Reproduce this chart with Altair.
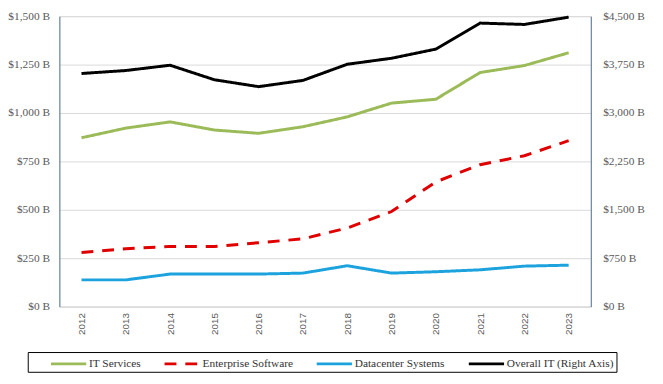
import altair as alt
import pandas as pd

years = [str(y) for y in range(2012, 2024)]
it_services = [872, 922, 954, 912, 895, 929, 980, 1051, 1071, 1209, 1245, 1311]
enterprise_software = [279, 299, 311, 310, 330, 350, 406, 491, 644, 733, 779, 857]
datacenter_systems = [138, 138, 168, 168, 168, 173, 211, 173, 180, 190, 209, 214]
overall_it = [3612, 3658, 3740, 3515, 3408, 3505, 3755, 3848, 3990, 4393, 4372, 4485]

series_names = ["IT Services", "Enterprise Software", "Datacenter Systems", "Overall IT (Right Axis)"]
series_colors = ["#9BBB59", "#E00000", "#1CA3DE", "#000000"]
series_dashes = [[1, 0], [12, 9], [1, 0], [1, 0]]
left_ticks = [0, 250, 500, 750, 1000, 1250, 1500]
right_ticks = [0, 750, 1500, 2250, 3000, 3750, 4500]

rows = []
for name, vals in zip(series_names[:3], [it_services, enterprise_software, datacenter_systems]):
    for y, v in zip(years, vals):
        rows.append({"year": y, "series": name, "value": v})
df_left = pd.DataFrame(rows)
df_right = pd.DataFrame({"year": years, "series": series_names[3], "value": overall_it})

BORDER = "#52749A"
TXT = "#595959"
SERIF = "'Liberation Serif', 'Times New Roman', serif"

color_scale = alt.Scale(domain=series_names, range=series_colors)
dash_scale = alt.Scale(domain=series_names, range=series_dashes)

legend = alt.Legend(
    title=None, orient="none", legendX=-32, legendY=340, direction="horizontal",
    columns=4, columnPadding=2, gridAlign="each", symbolType="M-1,0H3.2", symbolSize=289,
    symbolStrokeWidth=3, symbolOffset=20, labelFont=SERIF, labelFontSize=11.5,
    labelColor="#333333", strokeColor="black", padding=2, labelOffset=20,
)

x_enc = alt.X(
    "year:O",
    scale=alt.Scale(type="point", padding=0.5),
    axis=alt.Axis(title=None, labelAngle=-90, labelFont="Liberation Sans", labelFontSize=10,
                  labelColor=TXT, ticks=False, domainColor="#D9D9D9", labelPadding=6),
)

left = alt.Chart(df_left).mark_line(strokeWidth=3).encode(
    x=x_enc,
    y=alt.Y("value:Q", scale=alt.Scale(domain=[0, 1500], nice=False),
            axis=alt.Axis(title=None, orient="left", values=left_ticks,
                          labelExpr="'$' + format(datum.value, ',') + ' B'",
                          labelFont=SERIF, labelFontSize=11.5, labelColor=TXT,
                          grid=True, gridColor="#D9D9D9", ticks=False,
                          domainColor=BORDER, labelPadding=10)),
    color=alt.Color("series:N", scale=color_scale, legend=legend),
    strokeDash=alt.StrokeDash("series:N", scale=dash_scale, legend=legend),
)

right = alt.Chart(df_right).mark_line(strokeWidth=3).encode(
    x=x_enc,
    y=alt.Y("value:Q", scale=alt.Scale(domain=[0, 4500], nice=False),
            axis=alt.Axis(title=None, orient="right", values=right_ticks,
                          labelExpr="'$' + format(datum.value, ',') + ' B'",
                          labelFont=SERIF, labelFontSize=11.5, labelColor=TXT,
                          grid=False, ticks=False, domainColor=BORDER, labelPadding=12)),
    color=alt.Color("series:N", scale=color_scale, legend=legend),
    strokeDash=alt.StrokeDash("series:N", scale=dash_scale, legend=legend),
)

chart = alt.layer(left, right).resolve_scale(y="independent").properties(
    width=538, height=294,
    padding={"left": 52, "top": 6, "right": 65, "bottom": 70},
    autosize="none",
).configure_view(stroke=BORDER, strokeWidth=1).configure_legend(
    labelFont=SERIF, labelFontSize=11.5, labelColor="#333333",
).configure(background="white")

chart.save("out.html", embed_options={"renderer": "svg", "actions": False})
